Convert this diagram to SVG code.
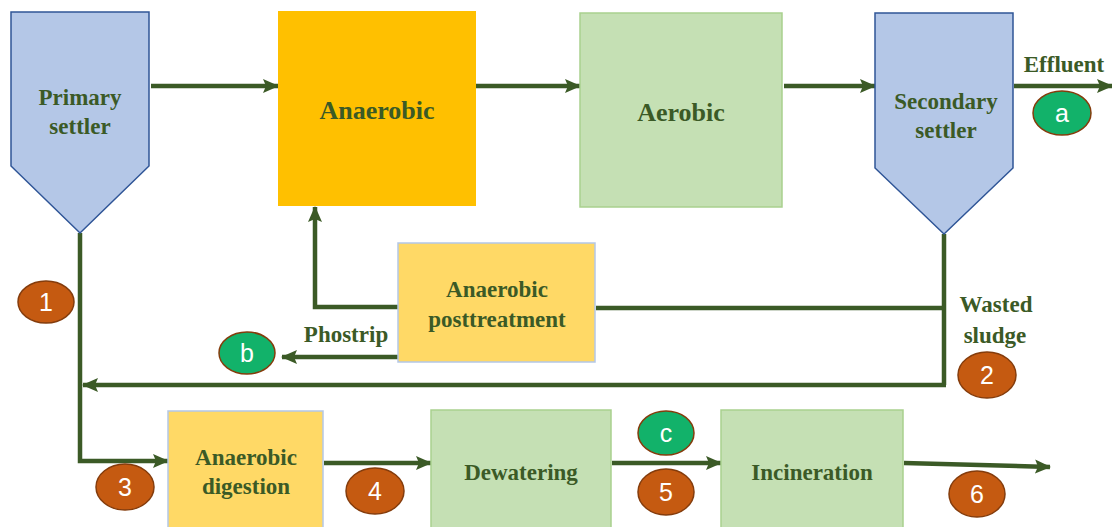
<svg xmlns="http://www.w3.org/2000/svg" width="1112" height="527" viewBox="0 0 1112 527">
  <style>
    .lbl { font-family: "Liberation Serif", "Times New Roman", serif; font-weight: bold; fill: #3B5A26; text-anchor: middle; }
    .s23 { font-size: 23px; }
    .s26 { font-size: 26px; }
    .settler { fill: #B4C7E7; stroke: #2F5597; stroke-width: 1.5; }
    .green { fill: #C5E0B4; stroke: #A9D18E; stroke-width: 1.5; }
    .yellow { fill: #FFD966; stroke: #B4C7E7; stroke-width: 1.5; }
    .conn { fill: none; stroke: #3B5A26; stroke-width: 4.5; }
    .arrow { marker-end: url(#head); }
    .badge-o { fill: #C55A11; stroke: #843C0C; stroke-width: 1.5; }
    .badge-g { fill: #12B26A; stroke: #843C0C; stroke-width: 1.5; }
    .num { font-family: "Liberation Sans", Arial, sans-serif; font-size: 25px; fill: #FFFFFF; text-anchor: middle; }
  </style>
  <defs>
    <marker id="head" markerUnits="userSpaceOnUse" markerWidth="16" markerHeight="16" viewBox="0 0 16 16" refX="15" refY="8" orient="auto">
      <path d="M0,1 L16,8 L0,15 L3,8 Z" fill="#3B5A26"/>
    </marker>
  </defs>

  <!-- connectors -->
  <g id="connectors">
    <line class="conn arrow" x1="151" y1="86" x2="278" y2="86"/>
    <line class="conn arrow" x1="476" y1="86" x2="580" y2="86"/>
    <line class="conn arrow" x1="784" y1="86" x2="875" y2="86"/>
    <line class="conn arrow" x1="1014" y1="86" x2="1112" y2="86"/>
    <!-- wasted sludge from secondary settler -->
    <polyline class="conn" points="944,234 944,385"/>
    <line class="conn" x1="944" y1="308" x2="596" y2="308"/>
    <line class="conn arrow" x1="946" y1="385" x2="83" y2="385"/>
    <!-- posttreatment return to anaerobic tank -->
    <polyline class="conn arrow" points="398,307 315,307 315,207"/>
    <line class="conn arrow" x1="398" y1="357" x2="282" y2="357"/>
    <!-- primary sludge line -->
    <polyline class="conn arrow" points="80,233 80,461 168,461"/>
    <line class="conn arrow" x1="324" y1="463" x2="431" y2="463"/>
    <line class="conn arrow" x1="612" y1="463" x2="721" y2="463"/>
    <line class="conn arrow" x1="904" y1="463" x2="1050" y2="467"/>
  </g>

  <g id="primary-settler">
    <polygon class="settler" points="11,12 149,12 149,166 80,233 11,166"/>
    <text class="lbl s23" x="80" y="105">Primary</text>
    <text class="lbl s23" x="80" y="134">settler</text>
  </g>

  <g id="anaerobic">
    <rect x="278" y="11" width="198" height="195" fill="#FFC000"/>
    <text class="lbl s26" x="377" y="119">Anaerobic</text>
  </g>

  <g id="aerobic">
    <rect class="green" x="580" y="13" width="202" height="194"/>
    <text class="lbl s26" x="681" y="121">Aerobic</text>
  </g>

  <g id="secondary-settler">
    <polygon class="settler" points="875,13 1013,13 1013,168 944,234 875,168"/>
    <text class="lbl s23" x="946" y="109">Secondary</text>
    <text class="lbl s23" x="946" y="138">settler</text>
  </g>

  <g id="effluent">
    <text class="lbl s23" x="1064" y="72">Effluent</text>
  </g>

  <g id="anaerobic-posttreatment">
    <rect class="yellow" x="398" y="243" width="197" height="119"/>
    <text class="lbl s23" x="497" y="297">Anaerobic</text>
    <text class="lbl s23" x="497" y="327">posttreatment</text>
  </g>

  <g id="phostrip">
    <text class="lbl s23" x="346" y="342">Phostrip</text>
  </g>

  <g id="wasted-sludge">
    <text class="lbl s23" x="996" y="312">Wasted</text>
    <text class="lbl s23" x="995" y="343">sludge</text>
  </g>

  <g id="anaerobic-digestion">
    <rect class="yellow" x="168" y="411" width="155" height="130"/>
    <text class="lbl s23" x="246" y="465">Anaerobic</text>
    <text class="lbl s23" x="246" y="494">digestion</text>
  </g>

  <g id="dewatering">
    <rect class="green" x="431" y="410" width="180" height="130"/>
    <text class="lbl s23" x="521" y="480">Dewatering</text>
  </g>

  <g id="incineration">
    <rect class="green" x="721" y="410" width="182" height="130"/>
    <text class="lbl s23" x="812" y="480">Incineration</text>
  </g>

  <!-- sampling point badges -->
  <g id="badge-a">
    <ellipse class="badge-g" cx="1062" cy="113" rx="29" ry="22"/>
    <text class="num" x="1062" y="122">a</text>
  </g>
  <g id="badge-b">
    <ellipse class="badge-g" cx="247" cy="353" rx="28" ry="21"/>
    <text class="num" x="247" y="362">b</text>
  </g>
  <g id="badge-c">
    <ellipse class="badge-g" cx="666" cy="433" rx="28" ry="22"/>
    <text class="num" x="666" y="442">c</text>
  </g>
  <g id="badge-1">
    <ellipse class="badge-o" cx="46" cy="302" rx="28" ry="21"/>
    <text class="num" x="46" y="311">1</text>
  </g>
  <g id="badge-2">
    <ellipse class="badge-o" cx="987" cy="375" rx="29" ry="23"/>
    <text class="num" x="987" y="384">2</text>
  </g>
  <g id="badge-3">
    <ellipse class="badge-o" cx="125" cy="487" rx="29" ry="23"/>
    <text class="num" x="125" y="496">3</text>
  </g>
  <g id="badge-4">
    <ellipse class="badge-o" cx="375" cy="491" rx="29" ry="23"/>
    <text class="num" x="375" y="500">4</text>
  </g>
  <g id="badge-5">
    <ellipse class="badge-o" cx="666" cy="492" rx="28" ry="23"/>
    <text class="num" x="666" y="501">5</text>
  </g>
  <g id="badge-6">
    <ellipse class="badge-o" cx="977" cy="494" rx="28" ry="23"/>
    <text class="num" x="977" y="503">6</text>
  </g>
</svg>
